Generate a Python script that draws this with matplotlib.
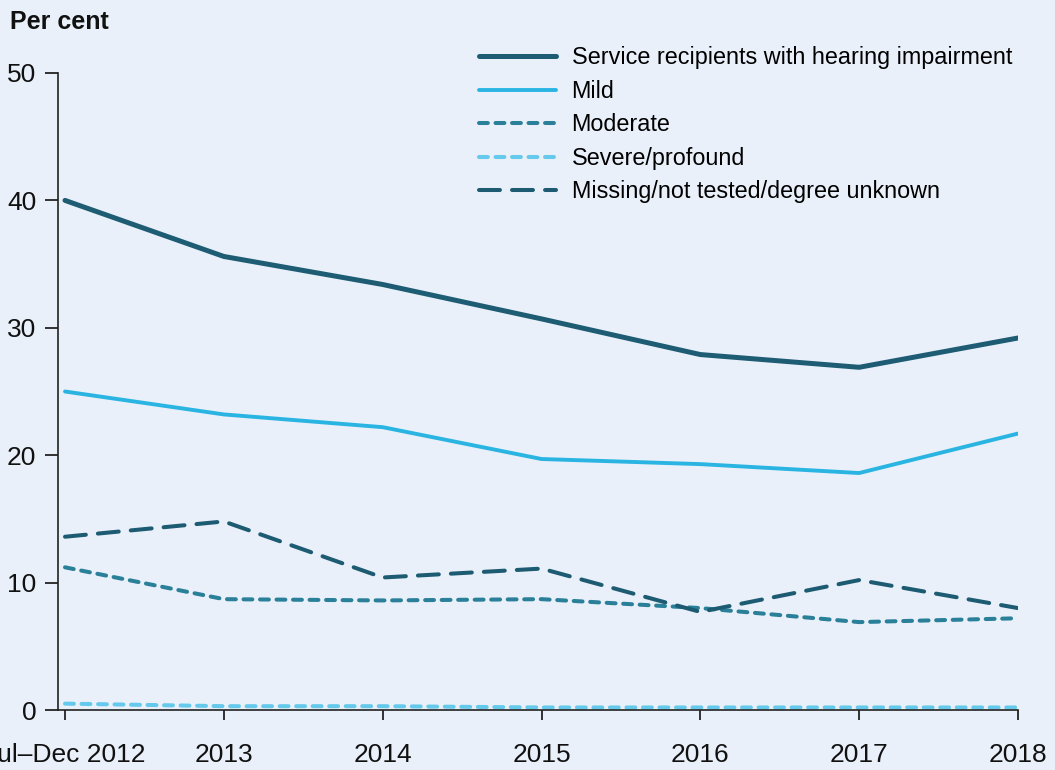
import matplotlib
matplotlib.use("Agg")
import matplotlib.pyplot as plt

plt.rcParams['font.family'] = ['Liberation Sans', 'DejaVu Sans']

categories = ["Jul\u2013Dec 2012", "2013", "2014", "2015", "2016", "2017", "2018"]
service = [40.0, 35.6, 33.4, 30.7, 27.9, 26.9, 29.2]
mild = [25.0, 23.2, 22.2, 19.7, 19.3, 18.6, 21.7]
moderate = [11.2, 8.7, 8.6, 8.7, 8.0, 6.9, 7.2]
severe = [0.5, 0.3, 0.3, 0.2, 0.2, 0.2, 0.2]
missing = [13.6, 14.8, 10.4, 11.1, 7.7, 10.2, 8.0]
yticks = [0, 10, 20, 30, 40, 50]

bg = "#e9f0f9"
fig = plt.figure(figsize=(10.55, 7.7), dpi=100, facecolor=bg)
ax = fig.add_axes([58/1055, 1-710/770, (1018-58)/1055, (710-73)/770])
ax.set_facecolor(bg)

x = list(range(len(categories)))
ax.plot(x, service, color="#1e5c73", lw=3.6, solid_capstyle='round', label="Service recipients with hearing impairment")
ax.plot(x, mild, color="#2ab4e2", lw=2.8, solid_capstyle='round', label="Mild")
ax.plot(x, moderate, color="#2a7f99", lw=2.9, dashes=(2.2, 1.9), dash_capstyle='round', label="Moderate")
ax.plot(x, severe, color="#64c9ea", lw=2.9, dashes=(2.2, 1.9), dash_capstyle='round', label="Severe/profound")
ax.plot(x, missing, color="#1c5b71", lw=2.9, dashes=(5.2, 3.0), dash_capstyle='round', label="Missing/not tested/degree unknown")

ax.set_xlim(-7/158.8, 6)
ax.set_ylim(0, 50)
ax.set_xticks(x)
ax.set_xticklabels(categories)
ax.set_yticks(yticks)
for s in ['top', 'right']:
    ax.spines[s].set_visible(False)
for s in ['left', 'bottom']:
    ax.spines[s].set_color("#222222")
    ax.spines[s].set_linewidth(1.2)
ax.tick_params(axis='y', length=9.5, width=1.2, pad=6, labelsize=19, colors="#111111")
ax.tick_params(axis='x', length=7.5, width=1.2, pad=16, labelsize=19, colors="#111111")

leg = ax.legend(loc='upper left', bbox_to_anchor=(412/960, 1.0 + 36/637), frameon=False,
                fontsize=16.8, handlelength=3.3, handletextpad=0.65, labelspacing=0.45,
                borderaxespad=0)

fig.text(10/1055, 1-22/770, "Per cent", fontsize=18, fontweight='bold',
         va='center', ha='left', color="#111111")

fig.savefig("out.png", dpi=100, facecolor=bg)
